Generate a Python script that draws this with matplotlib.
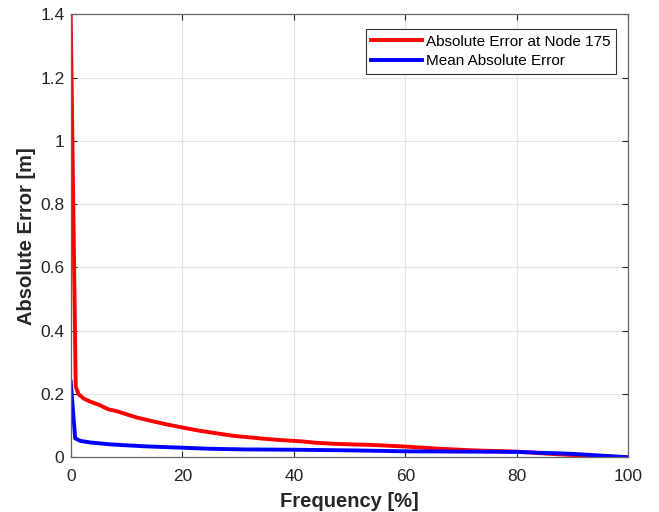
import matplotlib
matplotlib.use('Agg')
import matplotlib.pyplot as plt

plt.rcParams['font.family'] = ['Liberation Sans', 'DejaVu Sans']

# absolute error at node 175
freq_node = [0, 0.9, 1.4, 2.3, 3.5, 5.2, 6.7, 8.2, 10, 11.8, 14.2, 17.2, 20.1, 23.1,
             26.1, 29.1, 32.1, 35.1, 38, 41, 44, 47, 50, 54.2, 60, 66.2, 72.2, 80,
             84.1, 90, 100]
err_node = [1.4, 0.223, 0.2, 0.186, 0.176, 0.165, 0.152, 0.146, 0.136, 0.126, 0.116,
            0.104, 0.094, 0.084, 0.076, 0.068, 0.063, 0.058, 0.054, 0.051, 0.046,
            0.043, 0.041, 0.039, 0.034, 0.027, 0.022, 0.018, 0.013, 0.007, 0.0]

# mean absolute error
freq_mean = [0, 0.8, 1.7, 3.5, 7, 13, 19, 25, 31, 40, 50, 60, 72, 80, 90, 100]
err_mean = [0.239, 0.06, 0.052, 0.047, 0.041, 0.035, 0.031, 0.027, 0.025, 0.024,
            0.022, 0.019, 0.018, 0.017, 0.011, 0.0]

xticks = [0, 20, 40, 60, 80, 100]
yticks = [0, 0.2, 0.4, 0.6, 0.8, 1.0, 1.2, 1.4]
ytick_labels = ['0', '0.2', '0.4', '0.6', '0.8', '1', '1.2', '1.4']

fig = plt.figure(figsize=(6.59, 5.12), dpi=100)
ax = fig.add_axes([0.1073, 0.1068, 0.8464, 0.8652])

ax.plot(freq_node, err_node, color='#ff0000', lw=2.8, label='Absolute Error at Node 175')
ax.plot(freq_mean, err_mean, color='#0000ff', lw=2.8, label='Mean Absolute Error')

ax.set_xlim(0, 100)
ax.set_ylim(0, 1.4)
ax.set_xticks(xticks)
ax.set_yticks(yticks)
ax.set_yticklabels(ytick_labels)
ax.grid(True, color='#e3e3e3', lw=0.8)
ax.set_axisbelow(True)
ax.tick_params(direction='in', top=True, right=True, labelsize=12.5,
               colors='#262626', length=4, width=0.8)
ax.tick_params(axis='x', pad=8.5)
ax.tick_params(axis='y', pad=4.5)
for s in ax.spines.values():
    s.set_color('#666666')
    s.set_linewidth(0.9)

ax.set_xlabel('Frequency [%]', fontsize=14.5, fontweight='bold', color='#262626', labelpad=6)
ax.set_ylabel('Absolute Error [m]', fontsize=14.5, fontweight='bold', color='#262626', labelpad=3)

leg = ax.legend(loc='upper right', fontsize=11, frameon=True, fancybox=False,
                handlelength=3.3, handletextpad=0.3, borderpad=0.35, labelspacing=0.37,
                borderaxespad=0, bbox_to_anchor=(0.9776, 0.966))
leg.get_frame().set_edgecolor('#333333')
leg.get_frame().set_linewidth(0.8)
leg.get_frame().set_alpha(1)

fig.savefig('out.png', dpi=100)
